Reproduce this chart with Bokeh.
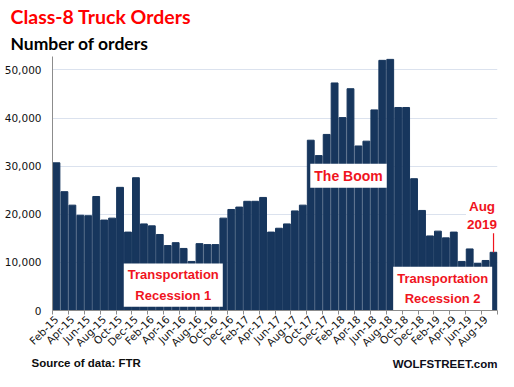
import math
from bokeh.plotting import figure
from bokeh.models import (Label, FixedTicker, NumeralTickFormatter, Range1d,
                          ColumnDataSource, Title)
from bokeh.embed import file_html
from bokeh.resources import INLINE

# ---------------- data ----------------
months = [
    "Feb-15", "Mar-15", "Apr-15", "May-15", "Jun-15", "Jul-15", "Aug-15", "Sep-15",
    "Oct-15", "Nov-15", "Dec-15", "Jan-16", "Feb-16", "Mar-16", "Apr-16", "May-16",
    "Jun-16", "Jul-16", "Aug-16", "Sep-16", "Oct-16", "Nov-16", "Dec-16", "Jan-17",
    "Feb-17", "Mar-17", "Apr-17", "May-17", "Jun-17", "Jul-17", "Aug-17", "Sep-17",
    "Oct-17", "Nov-17", "Dec-17", "Jan-18", "Feb-18", "Mar-18", "Apr-18", "May-18",
    "Jun-18", "Jul-18", "Aug-18", "Sep-18", "Oct-18", "Nov-18", "Dec-18", "Jan-19",
    "Feb-19", "Mar-19", "Apr-19", "May-19", "Jun-19", "Jul-19", "Aug-19", "Sep-19",
]
orders = [
    30700, 24700, 21900, 19800, 19700, 23700, 18800, 19200,
    25600, 16300, 27600, 18000, 17600, 15800, 13500, 14100,
    12900, 10200, 13900, 13700, 13700, 19200, 21000, 21500,
    22700, 22700, 23500, 16300, 17100, 18000, 20700, 21900,
    35400, 32200, 36600, 47300, 40100, 46100, 34200, 35200,
    41700, 52000, 52200, 42200, 42200, 27400, 20800, 15500,
    16500, 15100, 16300, 10200, 12800, 9800, 10400, 12100,
]
y_ticks = [0, 10000, 20000, 30000, 40000, 50000]

title_text = "Class-8 Truck Orders"
subtitle_text = "Number of orders"
source_text = "Source of data: FTR"
brand_text = "WOLFSTREET.com"

# ---------------- figure ----------------
idx = list(range(len(months)))
src = ColumnDataSource(dict(x=idx, top=orders, month=months))

p = figure(width=498, height=371, output_backend="svg", toolbar_location=None,
           x_range=Range1d(-0.5, len(months) - 0.5), y_range=Range1d(0, 52800),
           min_border_left=52, min_border_right=1, min_border_top=56,
           min_border_bottom=50)
p.title.visible = False
p.outline_line_color = None
p.background_fill_color = "white"
p.border_fill_color = "white"

p.vbar(x="x", top="top", width=0.86, source=src, color="#17365D")

# axes
p.yaxis.ticker = FixedTicker(ticks=y_ticks)
p.yaxis.formatter = NumeralTickFormatter(format="0,0")
p.yaxis.major_tick_out = 0
p.yaxis.major_tick_in = 0
p.yaxis.minor_tick_line_color = None
p.yaxis.axis_line_color = "#8c8c8c"
p.yaxis.major_label_standoff = 11
p.yaxis.major_label_text_font = "DejaVu Sans"
p.yaxis.major_label_text_font_size = "10.5px"
p.yaxis.major_label_text_color = "#111111"

lab_ticks = idx[::2]
p.xaxis.ticker = FixedTicker(ticks=lab_ticks,
                             minor_ticks=[i - 0.5 for i in lab_ticks] + [idx[-1] + 0.5])
p.xaxis.major_label_overrides = {i: months[i] for i in lab_ticks}
p.xaxis.major_label_orientation = math.pi / 4
p.xaxis.major_tick_out = 0
p.xaxis.major_tick_in = 0
p.xaxis.minor_tick_out = 4
p.xaxis.minor_tick_in = 0
p.xaxis.minor_tick_line_color = "#8c8c8c"
p.xaxis.axis_line_color = "#8c8c8c"
p.xaxis.major_label_standoff = 3
p.xaxis.major_label_text_font = "DejaVu Sans"
p.xaxis.major_label_text_font_size = "10.5px"
p.xaxis.major_label_text_color = "#111111"

p.xgrid.grid_line_color = None
p.ygrid.grid_line_color = "#dbe2ee"
p.ygrid.grid_line_width = 1

# ---------------- annotations ----------------
red = "#F0141E"

def box_label(x, y, text, size):
    return Label(x=x, y=y, text=text, text_align="center", text_baseline="middle",
                 text_font="Liberation Sans", text_font_style="bold",
                 text_font_size=size, text_color=red, text_line_height=1.35,
                 background_fill_color="white", padding=4)

p.add_layout(box_label(14.7, 5300, "Transportation\nRecession 1", "13px"))
p.add_layout(box_label(36.75, 28000, "The Boom", "14px"))
p.add_layout(box_label(48.6, 4600, "Transportation\nRecession 2", "13px"))
p.add_layout(Label(x=53.55, y=19700, text="Aug\n2019", text_align="center",
                   text_baseline="middle", text_font="Liberation Sans",
                   text_font_style="bold", text_font_size="13.5px", text_color=red,
                   text_line_height=1.2, background_fill_color="white", padding=1))
last = idx[-1]
p.segment(x0=[last], y0=[orders[last]], x1=[last], y1=[orders[last] + 4500],
          line_color=red, line_width=1.2)

# titles (above) and footers (below)
p.add_layout(Title(text=subtitle_text, align="left", offset=-42, standoff=6,
                   text_font="Lato", text_font_style="bold", text_font_size="17.5px",
                   text_color="#000000"), "above")
p.add_layout(Title(text=title_text, align="left", offset=-42, standoff=0,
                   text_font="Lato", text_font_style="bold", text_font_size="19.5px",
                   text_color="#FF0000"), "above")
p.add_layout(Title(text=source_text, align="left", offset=-21, standoff=2,
                   vertical_align="top",
                   text_font="Liberation Sans", text_font_style="bold",
                   text_font_size="11.5px", text_color="#0d0d0d"), "below")
p.add_layout(Title(text=brand_text, align="right", offset=0, standoff=-28,
                   vertical_align="top",
                   text_font="Liberation Sans", text_font_style="bold",
                   text_font_size="11.5px", text_color="#0d0d1a"), "below")

open("out.html", "w").write(file_html(p, INLINE))
